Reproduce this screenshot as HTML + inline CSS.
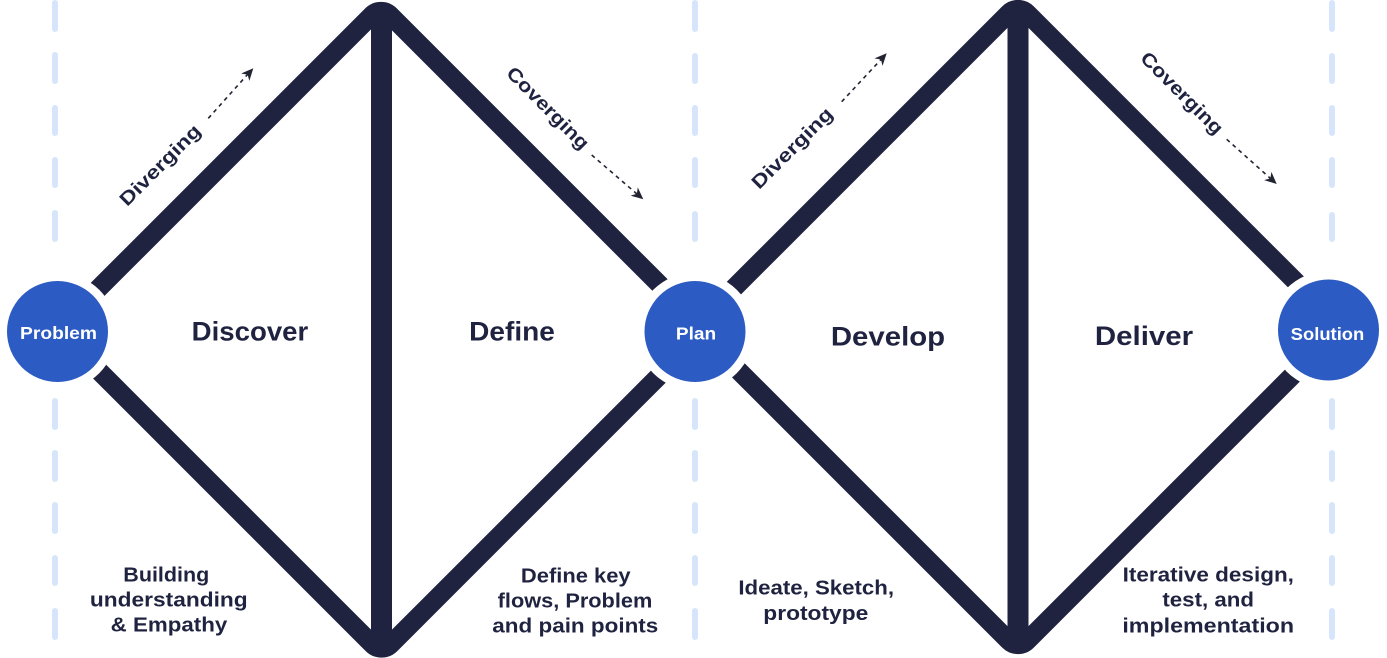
<!DOCTYPE html>
<html>
<head>
<meta charset="utf-8">
<style>
  html, body { margin:0; padding:0; background:#ffffff; }
  body { width:1387px; height:658px; overflow:hidden; }
  svg { display:block; }
  text { font-family: "Liberation Sans", Arial, sans-serif; font-weight:bold; }
</style>
</head>
<body>
<svg width="1387" height="658" viewBox="0 0 1387 658" xmlns="http://www.w3.org/2000/svg">
  <rect width="1387" height="658" fill="#ffffff"/>

  <!-- dashed vertical guide lines -->
  <g stroke="#d7e5fc" stroke-width="6" stroke-linecap="round">
    <line x1="55" y1="3" x2="55" y2="29"/>
    <line x1="55" y1="55" x2="55" y2="81"/>
    <line x1="55" y1="108" x2="55" y2="133"/>
    <line x1="55" y1="160" x2="55" y2="185"/>
    <line x1="55" y1="213" x2="55" y2="239"/>
    <line x1="55" y1="401" x2="55" y2="427"/>
    <line x1="55" y1="453" x2="55" y2="479"/>
    <line x1="55" y1="505" x2="55" y2="531"/>
    <line x1="55" y1="558" x2="55" y2="583"/>
    <line x1="55" y1="611" x2="55" y2="637"/>

    <line x1="695" y1="3" x2="695" y2="29"/>
    <line x1="695" y1="56" x2="695" y2="81"/>
    <line x1="695" y1="108" x2="695" y2="133"/>
    <line x1="695" y1="160" x2="695" y2="185"/>
    <line x1="695" y1="214" x2="695" y2="239"/>
    <line x1="695" y1="401" x2="695" y2="427"/>
    <line x1="695" y1="453" x2="695" y2="479"/>
    <line x1="695" y1="505" x2="695" y2="531"/>
    <line x1="695" y1="558" x2="695" y2="583"/>
    <line x1="695" y1="611" x2="695" y2="637"/>

    <line x1="1332" y1="3" x2="1332" y2="29"/>
    <line x1="1332" y1="56" x2="1332" y2="81"/>
    <line x1="1332" y1="108" x2="1332" y2="133"/>
    <line x1="1332" y1="160" x2="1332" y2="185"/>
    <line x1="1332" y1="215" x2="1332" y2="239"/>
    <line x1="1332" y1="401" x2="1332" y2="427"/>
    <line x1="1332" y1="453" x2="1332" y2="479"/>
    <line x1="1332" y1="505" x2="1332" y2="531"/>
    <line x1="1332" y1="558" x2="1332" y2="583"/>
    <line x1="1332" y1="611" x2="1332" y2="637"/>
  </g>

  <!-- diamonds -->
  <g fill="none" stroke="#20233f" stroke-width="19" stroke-linecap="butt" stroke-linejoin="round">
    <!-- left diamond -->
    <path d="M 58 329 L 371.8 15.2 A 13 13 0 0 1 390.2 15.2 L 707 332"/>
    <path d="M 58 330 L 372.3 644.3 A 13 13 0 0 0 390.7 644.3 L 703 332"/>
    <!-- right diamond -->
    <path d="M 690 332 L 1008.8 13.2 A 13 13 0 0 1 1027.2 13.2 L 1344 330"/>
    <path d="M 700 332 L 1008.8 640.8 A 13 13 0 0 0 1027.2 640.8 L 1338 330"/>
  </g>
  <!-- vertical bars -->
  <rect x="371" y="18" width="21" height="626" fill="#20233f"/>
  <rect x="1007.5" y="16" width="21" height="625" fill="#20233f"/>

  <!-- circles -->
  <circle cx="57.5" cy="331.5" r="59" fill="#ffffff"/>
  <circle cx="57.5" cy="331.5" r="50.5" fill="#2c5bc3"/>
  <circle cx="695" cy="331.5" r="59" fill="#ffffff"/>
  <circle cx="695" cy="331.5" r="50.5" fill="#2c5bc3"/>
  <circle cx="1328.5" cy="330" r="59" fill="#ffffff"/>
  <circle cx="1328.5" cy="330" r="50.5" fill="#2c5bc3"/>

  <!-- circle labels -->
  <g fill="#ffffff" font-size="17.5" text-anchor="middle">
    <text x="58.5" y="339" textLength="77" lengthAdjust="spacingAndGlyphs">Problem</text>
    <text x="696" y="339.3" textLength="40.3" lengthAdjust="spacingAndGlyphs">Plan</text>
    <text x="1327.5" y="340" textLength="73.6" lengthAdjust="spacingAndGlyphs">Solution</text>
  </g>

  <!-- phase titles -->
  <g fill="#1f2340" font-size="27" text-anchor="middle">
    <text x="250" y="340.7" textLength="116.6" lengthAdjust="spacingAndGlyphs">Discover</text>
    <text x="512" y="340.7" textLength="85.7" lengthAdjust="spacingAndGlyphs">Define</text>
    <text x="888" y="345.7" textLength="114.3" lengthAdjust="spacingAndGlyphs">Develop</text>
    <text x="1144" y="345" textLength="98.3" lengthAdjust="spacingAndGlyphs">Deliver</text>
  </g>

  <!-- bottom descriptions -->
  <g fill="#1f2340" font-size="20" text-anchor="middle">
    <text x="166.3" y="581.7" textLength="86" lengthAdjust="spacingAndGlyphs">Building</text>
    <text x="168.8" y="606.7" textLength="157.7" lengthAdjust="spacingAndGlyphs">understanding</text>
    <text x="169" y="631.7" textLength="116.6" lengthAdjust="spacingAndGlyphs">&amp; Empathy</text>

    <text x="575.8" y="582.3" textLength="109.7" lengthAdjust="spacingAndGlyphs">Define key</text>
    <text x="575" y="607.3" textLength="154.6" lengthAdjust="spacingAndGlyphs">flows, Problem</text>
    <text x="575.3" y="632.3" textLength="166" lengthAdjust="spacingAndGlyphs">and pain points</text>

    <text x="816.2" y="594.3" textLength="155.7" lengthAdjust="spacingAndGlyphs">Ideate, Sketch,</text>
    <text x="815.8" y="620" textLength="105" lengthAdjust="spacingAndGlyphs">prototype</text>

    <text x="1208.3" y="581.7" textLength="171.3" lengthAdjust="spacingAndGlyphs">Iterative design,</text>
    <text x="1208.2" y="606.7" textLength="91.7" lengthAdjust="spacingAndGlyphs">test, and</text>
    <text x="1208.2" y="632.3" textLength="171.7" lengthAdjust="spacingAndGlyphs">implementation</text>
  </g>

  <!-- rotated labels -->
  <g fill="#1f2340" font-size="19" text-anchor="middle">
    <text x="164.6" y="169.6" transform="rotate(-45 164.6 169.6)" textLength="106" lengthAdjust="spacingAndGlyphs">Diverging</text>
    <text x="543.4" y="112.6" transform="rotate(45 543.4 112.6)" textLength="108" lengthAdjust="spacingAndGlyphs">Coverging</text>
    <text x="796.6" y="152.6" transform="rotate(-45 796.6 152.6)" textLength="106" lengthAdjust="spacingAndGlyphs">Diverging</text>
    <text x="1177.4" y="97.6" transform="rotate(45 1177.4 97.6)" textLength="108" lengthAdjust="spacingAndGlyphs">Coverging</text>
  </g>

  <!-- dashed arrows -->
  <g stroke="#222432" stroke-width="1.6" stroke-dasharray="4 4" fill="none">
    <line x1="208.3" y1="118.3" x2="248" y2="74"/>
    <line x1="591.7" y1="155" x2="637" y2="194"/>
    <line x1="841.7" y1="101.7" x2="881" y2="59.5"/>
    <line x1="1226.7" y1="139.3" x2="1270.5" y2="178.5"/>
  </g>
  <g fill="#222432">
    <path transform="translate(253.3 68.3) rotate(-48)" d="M0 0 L-12 -5.5 L-8.5 0 L-12 5.5 Z"/>
    <path transform="translate(643.3 199.3) rotate(40.6)" d="M0 0 L-12 -5.5 L-8.5 0 L-12 5.5 Z"/>
    <path transform="translate(886.7 53.3) rotate(-47)" d="M0 0 L-12 -5.5 L-8.5 0 L-12 5.5 Z"/>
    <path transform="translate(1276.7 184) rotate(41.8)" d="M0 0 L-12 -5.5 L-8.5 0 L-12 5.5 Z"/>
  </g>
</svg>
</body>
</html>
